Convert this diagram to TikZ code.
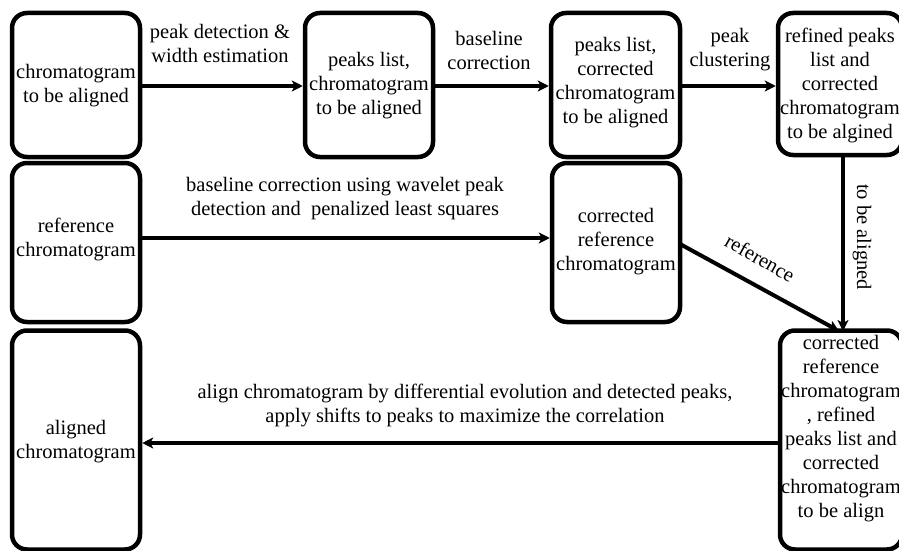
\documentclass[tikz,border=0pt]{standalone}
\usepackage{fontspec}
\setmainfont{Liberation Serif}
\usetikzlibrary{arrows.meta}
\begin{document}
\begin{tikzpicture}[x=1pt,y=-1pt,
  box/.style={draw,line width=4.5pt,rounded corners=15pt,inner sep=0pt},
  txt/.style={align=center,inner sep=0pt,font=\fontsize{20.5}{24}\selectfont},
  conn/.style={line width=4pt,-{Stealth[length=11pt,width=11pt,inset=3pt]}}]
\useasboundingbox (0,0) rectangle (899,551);
% boxes
\node[box,minimum width=128pt,minimum height=144pt] (b1) at (76,85) {};
\node[box,minimum width=128pt,minimum height=144pt] (b2) at (369,85) {};
\node[box,minimum width=129pt,minimum height=144pt] (b3) at (615.5,85) {};
\node[box,minimum width=124pt,minimum height=142pt] (b4) at (840,84) {};
\node[box,minimum width=128pt,minimum height=159pt] (r1) at (76,242.5) {};
\node[box,minimum width=128pt,minimum height=159pt] (r2) at (616,242.5) {};
\node[box,minimum width=128pt,minimum height=219pt] (a1) at (76,440) {};
\node[box,minimum width=122pt,minimum height=219pt] (f) at (841,440) {};
% box texts
\node[txt] (t1) at (76,86) {chromatogram\\to be aligned};
\node[txt] (t2) at (369,86) {peaks list,\\chromatogram\\to be aligned};
\node[txt] (t3) at (615.5,83) {peaks list,\\corrected\\chromatogram\\to be aligned};
\node[txt] (t4) at (840,85) {refined peaks\\list and\\corrected\\chromatogram\\to be algined};
\node[txt] (t5) at (76,239) {reference\\chromatogram};
\node[txt] (t6) at (616,242) {corrected\\reference\\chromatogram};
\node[txt] (t7) at (76,442) {aligned\\chromatogram};
\node[txt] (t8) at (841,429) {corrected\\reference\\chromatogram\\, refined\\peaks list and\\corrected\\chromatogram\\to be align};
% connectors
\coordinate (p1) at (b1.east |- 0,86);
\coordinate (p2) at (b2.west |- 0,86);
\coordinate (p3) at (b2.east |- 0,86);
\coordinate (p4) at (b3.west |- 0,86);
\coordinate (p5) at (b3.east |- 0,86);
\coordinate (p6) at (b4.west |- 0,86);
\draw[conn] (p1) -- (p2);
\draw[conn] (p3) -- (p4);
\draw[conn] (p5) -- (p6);
\coordinate (q1) at (r1.east |- 0,238);
\coordinate (q2) at (r2.west |- 0,238);
\draw[conn] (q1) -- (q2);
\coordinate (v1) at (843,155);
\coordinate (v2) at (843,331);
\draw[conn] (v1) -- (v2);
\coordinate (d1) at (680,244);
\coordinate (d2) at (839,331);
\draw[conn] (d1) -- (d2);
\coordinate (h1) at (f.west |- 0,443);
\coordinate (h2) at (a1.east |- 0,443);
\draw[conn] (h1) -- (h2);
% connector labels
\node[txt] (l1) at (220,43) {peak detection \&\\width estimation};
\node[txt] (l2) at (489,50) {baseline\\correction};
\node[txt] (l3) at (730,50) {peak\\clustering};
\node[txt] (l4) at (345,199) {baseline correction using wavelet peak\\detection and\ \ penalized least squares};
\node[txt] (l5) at (465,405) {align chromatogram by differential evolution and detected peaks,\\apply shifts to peaks to maximize the correlation};
\node[txt,rotate=-90] (l6) at (862,237) {to be aligned};
\node[txt,rotate=-29.5] (l7) at (760,258) {reference};
\end{tikzpicture}
\end{document}
